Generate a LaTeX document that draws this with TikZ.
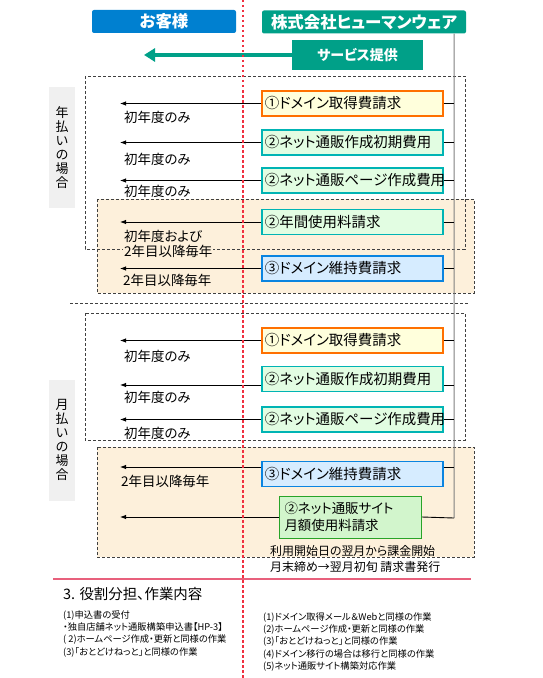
\documentclass[tikz,border=0pt]{standalone}
\usepackage{fontspec}
\setmainfont{Noto Sans CJK JP}[RawFeature=+palt]
\usetikzlibrary{arrows.meta}

\definecolor{custblue}{HTML}{0080D0}
\definecolor{hwteal}{HTML}{00A088}
\definecolor{domorange}{HTML}{FF7000}
\definecolor{domfill}{HTML}{FFFFDC}
\definecolor{initteal}{HTML}{00B4B4}
\definecolor{initfill}{HTML}{E2FDE2}
\definecolor{keepblue}{HTML}{0A84E0}
\definecolor{keepfill}{HTML}{D6ECFF}
\definecolor{sitegreen}{HTML}{28A428}
\definecolor{sitefill}{HTML}{D2F5CC}
\definecolor{peach}{HTML}{FDF0DB}
\definecolor{sidegray}{HTML}{F0F0F0}
\definecolor{dotred}{HTML}{F03040}
\definecolor{pinkrule}{HTML}{E8607C}

\begin{document}
\begin{tikzpicture}[x=1bp, y=-1bp, >={Latex[length=6bp,width=4.5bp]},
  every node/.style={font=\fontsize{13.5}{15}\selectfont, inner sep=0pt},
  headbox/.style={rounded corners=2bp, text=white, minimum height=23bp, font=\fontsize{16.5}{18}\selectfont\bfseries},
  reqbox/.style={draw, line width=1.8bp, anchor=west, minimum height=25bp, text width=175bp, inner xsep=3bp, align=left, font=\fontsize{14.5}{16}\selectfont},
  dombox/.style={reqbox, draw=domorange, fill=domfill},
  initbox/.style={reqbox, draw=initteal, fill=initfill},
  keepbox/.style={reqbox, draw=keepblue, fill=keepfill},
  sidebox/.style={fill=sidegray, minimum width=26bp, minimum height=121bp, align=center, font=\fontsize{13}{14}\selectfont},
  lbl/.style={anchor=west},
  region/.style={draw=black!75, line width=0.7bp, dash pattern=on 3bp off 2bp},
  link/.style={line width=0.9bp}]
\useasboundingbox (0,0) rectangle (543,678);

\fill[peach] (97,199) rectangle (474,293);
\fill[peach] (97,447) rectangle (474,557);
\draw[region] (85,76) rectangle (465,249);
\draw[region] (97,199) rectangle (474,293);
\draw[region] (70,303) -- (470,303);
\draw[region] (85,313) rectangle (465,440);
\draw[region] (97,447) rectangle (474,557);

\node[headbox, fill=custblue, minimum width=144bp] (cust) at (164,21.5) {お客様};
\node[headbox, fill=hwteal, minimum width=204bp] (hw) at (364,22) {株式会社ヒューマンウェア};
\node[fill=hwteal, text=white, minimum width=131bp, minimum height=30bp, font=\fontsize{14}{16}\selectfont\bfseries] (svc) at (357.5,55) {サービス提供};
\coordinate (svctip) at (144,55);
\draw[hwteal, line width=4bp, -{Triangle[length=11bp,width=13bp]}] (svc.west) -- (svctip);

\coordinate (railtop) at ([xshift=-12bp]hw.south east);
\coordinate (railbot) at (454,518);
\coordinate (lx) at (120,0);
\draw[black!50, line width=1bp] (railtop) -- (railbot);

\node[sidebox] (yrside) at (62,147.5) {年\\払\\い\\の\\場\\合};
\node[sidebox] (moside) at (62,440) {月\\払\\い\\の\\場\\合};

\node[dombox] (yrdom) at (261,103.5) {①ドメイン取得費請求};
\node[initbox] (yrinit) at (261,142.5) {②ネット通販作成初期費用};
\node[initbox] (yrpage) at (261,180.5) {②ネット通販ページ作成費用};
\node[initbox] (yrfee) at (261,222) {②年間使用料請求};
\node[keepbox] (yrkeep) at (261,268.5) {③ドメイン維持費請求};

\node[dombox] (modom) at (261,340.5) {①ドメイン取得費請求};
\node[initbox] (moinit) at (261,379) {②ネット通販作成初期費用};
\node[initbox] (mopage) at (261,419.5) {②ネット通販ページ作成費用};
\node[keepbox] (mokeep) at (261,474) {③ドメイン維持費請求};
\node[draw=sitegreen, fill=sitefill, line width=1bp, anchor=west, minimum width=142bp, minimum height=42bp, text width=132bp, inner xsep=5bp, align=left, font=\fontsize{13.5}{17}\selectfont] (mosite) at (279,517) {②ネット通販サイト\\月額使用料請求};

\coordinate (moinitw) at ([yshift=-6bp]moinit.west);
\coordinate (moinite) at ([yshift=-6bp]moinit.east);
\coordinate (mokeepw) at ([yshift=7bp]mokeep.west);
\coordinate (mokeepe) at ([yshift=7bp]mokeep.east);

\draw[link, ->] (yrdom.west) -- (yrdom.west -| lx);
\draw[link, ->] (yrinit.west) -- (yrinit.west -| lx);
\draw[link, ->] (yrpage.west) -- (yrpage.west -| lx);
\draw[link, ->] (yrfee.west) -- (yrfee.west -| lx);
\draw[link, ->] (yrkeep.west) -- (yrkeep.west -| lx);
\draw[link, ->] (modom.west) -- (modom.west -| lx);
\draw[link, ->] (moinitw) -- (moinitw -| lx);
\draw[link, ->] (mopage.west) -- (mopage.west -| lx);
\draw[link, ->] (mokeepw) -- (mokeepw -| lx);
\draw[link, ->] (mosite.west) -- (mosite.west -| lx);

\draw[link] (yrdom.east) -- (yrdom.east -| railtop);
\draw[link] (yrinit.east) -- (yrinit.east -| railtop);
\draw[link] (yrpage.east) -- (yrpage.east -| railtop);
\draw[link] (yrfee.east) -- (yrfee.east -| railtop);
\draw[link] (yrkeep.east) -- (yrkeep.east -| railtop);
\draw[link] (modom.east) -- (modom.east -| railtop);
\draw[link] (moinite) -- (moinite -| railtop);
\draw[link] (mopage.east) -- (mopage.east -| railtop);
\draw[link] (mokeepe) -- (mokeepe -| railtop);
\draw[link] (mosite.east) -- (railbot);

\node[lbl] (yrdomlbl) at (124,117) {初年度のみ};
\node[lbl] (yrinitlbl) at (124,159) {初年度のみ};
\node[lbl] (yrpagelbl) at (124,191) {初年度のみ};
\node[lbl, fill=peach, inner sep=1bp, align=left] (yrfeelbl) at (123,243.5) {初年度および\\2年目以降毎年};
\node[lbl] (yrkeeplbl) at (123,280) {2年目以降毎年};
\node[lbl] (modomlbl) at (124,356) {初年度のみ};
\node[lbl] (moinitlbl) at (124,397) {初年度のみ};
\node[lbl] (mopagelbl) at (124,433) {初年度のみ};
\node[lbl] (mokeeplbl) at (121,481) {2年目以降毎年};

\node[anchor=west, font=\fontsize{12}{14}\selectfont] (billstart) at (270,551) {利用開始日の翌月から課金開始};
\node[anchor=west, font=\fontsize{12}{14}\selectfont] (billcycle) at (270,567) {月末締め→翌月初旬 請求書発行};

\draw[pinkrule, line width=1.5bp] (53,579) -- (471,579);
\node[anchor=west, font=\fontsize{14.5}{16}\selectfont] (roletitle) at (63,594) {3. 役割分担、作業内容};
\node[anchor=north west, align=left, font=\fontsize{9.3}{12.5}\selectfont] (custtasks) at (63,610) {(1)申込書の受付\\・独自店舗ネット通販構築申込書【HP-3】\\( 2)ホームページ作成・更新と同様の作業\\(3)「おとどけねっと」と同様の作業};
\node[anchor=north west, align=left, font=\fontsize{9.3}{12.4}\selectfont] (hwtasks) at (263,612) {(1)ドメイン取得メール＆Webと同様の作業\\(2)ホームページ作成・更新と同様の作業\\(3)「おとどけねっと」と同様の作業\\(4)ドメイン移行の場合は移行と同様の作業\\(5)ネット通販サイト構築対応作業};

\draw[dotred, line width=2.5bp, dash pattern=on 2.5bp off 2.5bp] (243,0) -- (243,678);
\end{tikzpicture}
\end{document}
